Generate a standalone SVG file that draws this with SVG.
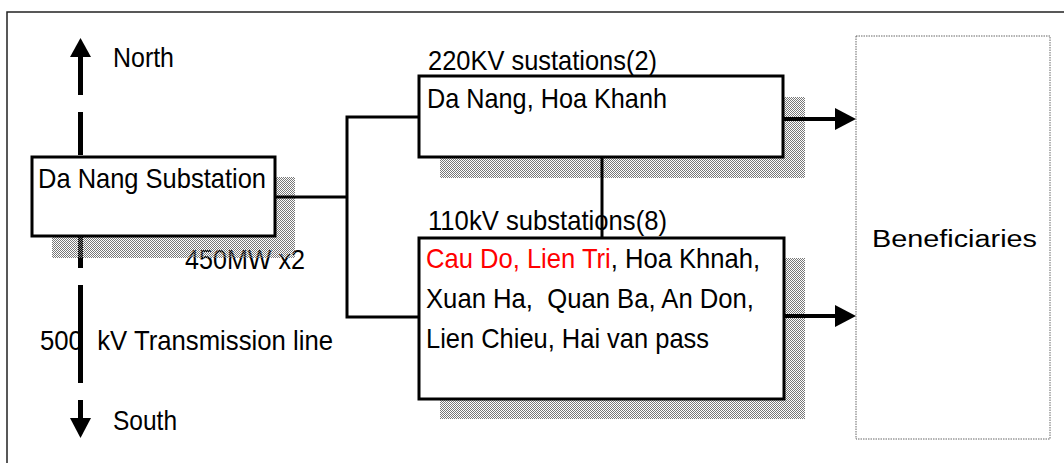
<svg xmlns="http://www.w3.org/2000/svg" width="1064" height="463" viewBox="0 0 1064 463">
<style>
.t{font-family:"Liberation Sans",Arial,sans-serif;font-size:28.5px;fill:#000}
.r{fill:#ff0000}
.b{font-family:"Liberation Sans",Arial,sans-serif;font-size:23px;fill:#000}
.box{fill:#fff;stroke:#000;stroke-width:3}
.sh{fill:url(#dots)}
.ln{stroke:#000;stroke-width:3;fill:none}
.ar{stroke:#000;stroke-width:4;fill:none}
.ns{stroke:#000;stroke-width:5;fill:none}
</style>
<defs>
<pattern id="dots" width="2" height="2" patternUnits="userSpaceOnUse">
<rect x="0" y="0" width="1" height="1" fill="#787878"/>
<rect x="1" y="1" width="1" height="1" fill="#787878"/>
</pattern>
</defs>
<rect width="1064" height="463" fill="#fff"/>
<rect x="7" y="12" width="1070" height="470" fill="none" stroke="#222" stroke-width="1.5"/>

<g id="north-south">
<polygon points="80.5,38 70,57 91,57" fill="#000"/>
<line class="ns" x1="80.5" y1="57" x2="80.5" y2="95"/>
<line class="ns" x1="80.5" y1="112" x2="80.5" y2="155"/>
<line class="ns" x1="80.5" y1="236" x2="80.5" y2="268"/>
<line class="ns" x1="80.5" y1="285" x2="80.5" y2="383"/>
<line class="ns" x1="80.5" y1="400" x2="80.5" y2="418"/>
<polygon points="70,418 91,418 80.5,438" fill="#000"/>
<text class="t" x="113" y="67" textLength="61" lengthAdjust="spacingAndGlyphs">North</text>
<text class="t" x="113" y="430" textLength="64" lengthAdjust="spacingAndGlyphs">South</text>
<text class="t" x="40" y="350" textLength="293" lengthAdjust="spacingAndGlyphs" xml:space="preserve">500  kV Transmission line</text>
</g>

<g id="danang">
<text class="t" x="185" y="269" textLength="120" lengthAdjust="spacingAndGlyphs">450MW x2</text>
<rect class="sh" x="52" y="177" width="243" height="81"/>
<rect class="box" x="32" y="157" width="243" height="79"/>
<text class="t" x="38" y="188" textLength="228" lengthAdjust="spacingAndGlyphs">Da Nang Substation</text>
</g>

<g id="s220">
<text class="t" x="428" y="70" textLength="229" lengthAdjust="spacingAndGlyphs">220KV sustations(2)</text>
<rect class="sh" x="440" y="97" width="365" height="81"/>
<rect class="box" x="419" y="76" width="364" height="81"/>
<text class="t" x="427" y="108" textLength="240" lengthAdjust="spacingAndGlyphs">Da Nang, Hoa Khanh</text>
</g>

<g id="s110">
<text class="t" x="428" y="230" textLength="239" lengthAdjust="spacingAndGlyphs">110kV substations(8)</text>
<rect class="sh" x="440" y="258" width="365" height="161"/>
<rect class="box" x="419" y="238" width="365" height="161"/>
<text class="t" x="426" y="268" textLength="334" lengthAdjust="spacingAndGlyphs"><tspan class="r">Cau Do, Lien Tri</tspan>, Hoa Khnah,</text>
<text class="t" x="426" y="308" textLength="328" lengthAdjust="spacingAndGlyphs" xml:space="preserve">Xuan Ha,  Quan Ba, An Don,</text>
<text class="t" x="426" y="348" textLength="283" lengthAdjust="spacingAndGlyphs">Lien Chieu, Hai van pass</text>
</g>

<g id="beneficiaries">
<rect x="856" y="36" width="194" height="403" fill="#fff" stroke="#666" stroke-width="1" stroke-dasharray="1.5,1"/>
<text class="b" x="872" y="247" textLength="165" lengthAdjust="spacingAndGlyphs">Beneficiaries</text>
</g>

<g id="connectors">
<polyline class="ln" points="275,197 347,197"/>
<polyline class="ln" points="419,117 347,117 347,317 419,317"/>
<line class="ln" x1="602" y1="157" x2="602" y2="238"/>
<line class="ar" x1="783" y1="119" x2="837" y2="119"/>
<polygon points="835,108 835,130 856,119" fill="#000"/>
<line class="ar" x1="784" y1="316" x2="837" y2="316"/>
<polygon points="835,305 835,327 856,316" fill="#000"/>
</g>
</svg>
